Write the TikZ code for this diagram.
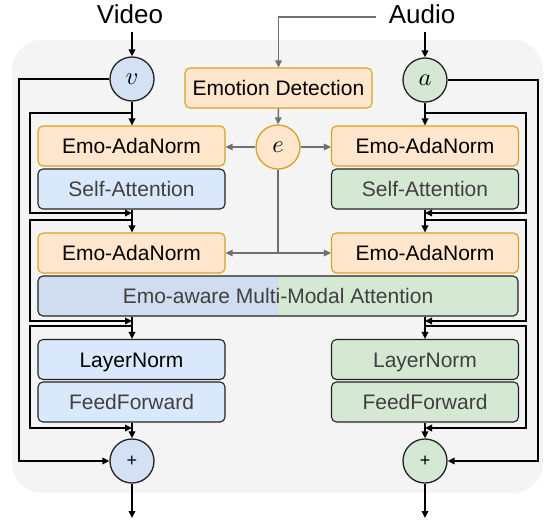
\documentclass[tikz,border=0pt]{standalone}
\usepackage{graphicx}
\usepackage{fontspec}
\setmainfont{Liberation Sans}
\usetikzlibrary{arrows.meta}
\definecolor{bgc}{HTML}{F4F4F4}
\definecolor{orf}{HTML}{FFE6CC}
\definecolor{orl}{HTML}{D9A022}
\definecolor{blf}{HTML}{DAE8FC}
\definecolor{blc}{HTML}{D4E1F5}
\definecolor{blm}{HTML}{D0DCF0}
\definecolor{grf}{HTML}{D5E8D4}
\definecolor{dk}{HTML}{222222}
\definecolor{gl}{HTML}{707070}
\definecolor{tg}{HTML}{404040}
\newcommand{\bigmath}[1]{\scalebox{2.45}{$#1$}}
\begin{document}
\begin{tikzpicture}[x=1pt,y=-1pt,
 box/.style={rectangle,rounded corners=5pt,minimum width=187pt,minimum height=40pt,inner sep=0pt,line width=1.1pt,font=\fontsize{21}{25}\selectfont,text height=19pt,text depth=4pt},
 obox/.style={box,fill=orf,draw=orl},
 bbox/.style={box,fill=blf,draw=dk,text=tg},
 gbox/.style={box,fill=grf,draw=dk,text=tg},
 circ/.style={circle,minimum size=44pt,inner sep=0pt,line width=1.3pt,font=\normalsize},
 pcirc/.style={circ,draw=dk,font=\fontsize{18}{20}\selectfont},
 lbl/.style={font=\fontsize{26}{30}\selectfont,inner sep=0pt},
 blk/.style={draw=black,line width=1.8pt,-{Triangle[length=7pt,width=6.5pt]}},
 gry/.style={draw=gl,line width=1.5pt,-{Triangle[length=7pt,width=6.5pt]}},
 ]
\useasboundingbox (0,0) rectangle (545,522);
\fill[bgc,rounded corners=30pt] (12,40) rectangle (543,493);

% labels and inputs
\node[lbl] (video) at (130,14) {Video};
\node[lbl] (audio) at (422,14) {Audio};
\node[circ,draw=dk,fill=blc] (v) at (132,79) {\bigmath{v}};
\node[circ,draw=dk,fill=grf] (a) at (425,80) {\bigmath{a}};
\node[obox] (ed) at (278.5,88) {Emotion Detection};
\node[circ,draw=orl,fill=orf] (e) at (278,147) {\bigmath{e}};

% block 1
\node[obox] (an1l) at (131.5,146) {Emo-AdaNorm};
\node[obox] (an1r) at (425,146) {Emo-AdaNorm};
\node[bbox] (sal) at (131.5,189) {Self-Attention};
\node[gbox] (sar) at (425,189) {Self-Attention};

% block 2
\node[obox] (an2l) at (131.5,253) {Emo-AdaNorm};
\node[obox] (an2r) at (425,253) {Emo-AdaNorm};
\begin{scope}
\clip[rounded corners=5pt] (38,276) rectangle (518,316);
\fill[blm] (38,276) rectangle (278,316);
\fill[grf] (278,276) rectangle (518,316);
\end{scope}
\node[box,draw=dk,minimum width=480pt,text=tg] (mm) at (278,296) {Emo-aware Multi-Modal Attention};

% block 3
\node[bbox,text=black] (lnl) at (131.5,359.5) {LayerNorm};
\node[gbox] (lnr) at (425,359.5) {LayerNorm};
\node[bbox] (ffl) at (131.5,402) {FeedForward};
\node[gbox] (ffr) at (425,402) {FeedForward};

\node[pcirc,fill=blc] (pl) at (132,461) {+};
\node[pcirc,fill=grf] (pr) at (425,461) {+};
\coordinate (outl) at (132,518);
\coordinate (outr) at (425,518);

% junction coordinates
\coordinate (j1l) at (132,113); \coordinate (k1l) at (132,213);
\coordinate (j2l) at (132,220); \coordinate (k2l) at (132,321);
\coordinate (j3l) at (132,326); \coordinate (k3l) at (132,428);
\coordinate (j1r) at (425,113); \coordinate (k1r) at (425,213);
\coordinate (j2r) at (425,220); \coordinate (k2r) at (425,321);
\coordinate (j3r) at (425,326); \coordinate (k3r) at (425,428);
\coordinate (eb) at (278,253);

% main black flow, left
\draw[blk,shorten <=8pt] (video.south -| v.north) -- (v.north);
\draw[blk] (v.south) -- (v.south |- an1l.north);
\draw[blk] (sal.south -| v) -- (an2l.north -| v);
\draw[blk] (mm.south -| v) -- (lnl.north -| v);
\draw[blk] (ffl.south -| v) -- (pl.north);
\draw[blk] (pl.south) -- (outl);
% main black flow, right
\draw[blk,shorten <=8pt] (audio.south -| a.north) -- (a.north);
\draw[blk] (a.south) -- (a.south |- an1r.north);
\draw[blk] (sar.south -| a) -- (an2r.north -| a);
\draw[blk] (mm.south -| a) -- (lnr.north -| a);
\draw[blk] (ffr.south -| a) -- (pr.north);
\draw[blk] (pr.south) -- (outr);

% residuals left
\draw[blk] (v.west) -- ++(-90,0) |- (pl.west);
\draw[blk] (j1l) -- ++(-102,0) |- (k1l);
\draw[blk] (j2l) -- ++(-102,0) |- (k2l);
\draw[blk] (j3l) -- ++(-102,0) |- (k3l);
% residuals right
\draw[blk] (a.east) -- ++(90,0) |- (pr.east);
\draw[blk] (j1r) -- ++(101,0) |- (k1r);
\draw[blk] (j2r) -- ++(101,0) |- (k2r);
\draw[blk] (j3r) -- ++(101,0) |- (k3r);

% emotion (gray)
\draw[gry] ([xshift=-13pt,yshift=-3pt]audio.west) -| (ed.north);
\draw[gry] (ed.south) -- (e.north);
\draw[gry] (e.west) -- (e.west -| an1l.east);
\draw[gry] (e.east) -- (e.east -| an1r.west);
\draw[gl,line width=1.5pt] (e.south) -- (eb);
\draw[gry] (eb) -- (an2l.east);
\draw[gry] (eb) -- (an2r.west);
\end{tikzpicture}
\end{document}
